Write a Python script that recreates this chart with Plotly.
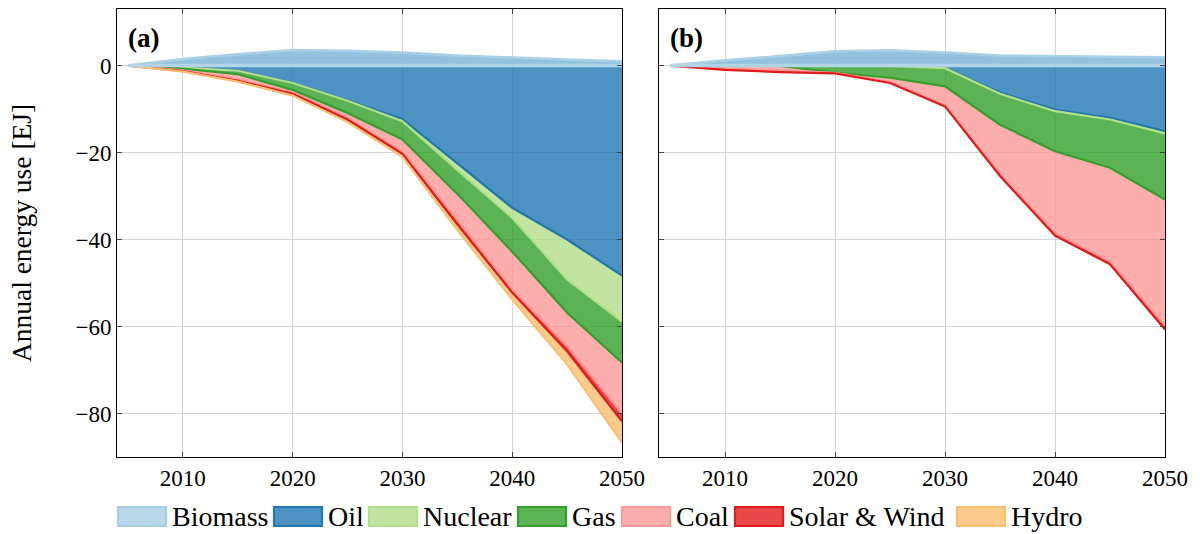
import plotly.graph_objects as go
import numpy as np

# ---------------- data (EJ) ----------------
years = [2005, 2010, 2015, 2020, 2025, 2030, 2035, 2040, 2045, 2050]
series_names = ["Biomass", "Oil", "Nuclear", "Gas", "Coal", "Solar & Wind", "Hydro"]

# panel (a)
biomass_a = [0, 1.5, 2.6, 3.6, 3.4, 3.0, 2.3, 1.8, 1.4, 1.0]
oil_a = [0, -0.5, -1.2, -4.0, -8.0, -12.3, -22.5, -32.7, -40.0, -48.3]
nuclear_a = [0, 0, 0, 0, -0.1, -0.5, -1.5, -2.3, -9.2, -10.6]
gas_a = [0, -0.2, -0.8, -1.6, -2.8, -4.2, -5.5, -7.8, -7.6, -9.4]
coal_a = [0, -0.4, -1.2, -0.6, -1.2, -2.8, -6.0, -8.7, -7.7, -11.7]
solar_a = [0, -0.2, -0.3, -0.3, -0.3, -0.5, -1.0, -0.7, -1.2, -1.8]
hydro_a = [0, -0.1, -0.2, -0.4, -0.6, -0.7, -1.3, -1.6, -3.0, -4.9]

# panel (b)
biomass_b = [0, 1.2, 2.2, 3.3, 3.5, 3.0, 2.3, 2.1, 2.0, 1.9]
oil_b = [0, 0, 0, 0, -0.1, -0.5, -6.2, -10.1, -12.0, -15.1]
nuclear_b = [0, 0, 0, 0, 0, -0.1, -0.3, -0.4, -0.4, -0.5]
gas_b = [0, 0, -0.1, -1.6, -2.7, -4.2, -7.1, -9.2, -11.1, -15.2]
coal_b = [0, -0.7, -1.0, -0.1, -1.0, -4.3, -11.3, -18.8, -21.5, -29.0]
solar_b = [0, -0.3, -0.4, -0.1, -0.2, -0.3, -0.5, -0.6, -0.7, -0.9]
hydro_b = [0, 0, 0, 0, 0, 0, 0, 0, 0, 0]

x_ticks = [2010, 2020, 2030, 2040, 2050]
y_ticks = [0, -20, -40, -60, -80]
y_tick_text = ["0", "\u221220", "\u221240", "\u221260", "\u221280"]
panel_labels = ["(a)", "(b)"]

# ---------------- styles ----------------
line_colors = {
    "Biomass": "#a6cee3", "Oil": "#1f78b4", "Nuclear": "#b2df8a", "Gas": "#33a02c",
    "Coal": "#fb9a99", "Solar & Wind": "#e31a1c", "Hydro": "#fdbf6f",
}


def rgba(hexc, a):
    h = hexc.lstrip("#")
    r, g, b = int(h[0:2], 16), int(h[2:4], 16), int(h[4:6], 16)
    return f"rgba({r},{g},{b},{a})"


FONT = "Liberation Serif, Times New Roman, serif"
fig = go.Figure()

panels = [
    ("x", "y", biomass_a, [oil_a, nuclear_a, gas_a, coal_a, solar_a, hydro_a]),
    ("x2", "y2", biomass_b, [oil_b, nuclear_b, gas_b, coal_b, solar_b, hydro_b]),
]

for xa, ya, bio, negs in panels:
    zeros = [0.0] * len(years)
    fig.add_trace(go.Scatter(x=years, y=zeros, mode="lines", line=dict(width=0),
                             showlegend=False, hoverinfo="skip", xaxis=xa, yaxis=ya))
    cum = np.zeros(len(years))
    for name, vals in zip(series_names[1:], negs):
        cum = cum + np.array(vals, dtype=float)
        width = 2.2 if np.any(np.array(vals) != 0) else 0
        fig.add_trace(go.Scatter(
            x=years, y=cum.tolist(), mode="lines", name=name,
            line=dict(color=line_colors[name], width=width),
            fill="tonexty", fillcolor=rgba(line_colors[name], 0.8),
            showlegend=False, xaxis=xa, yaxis=ya))
    fig.add_trace(go.Scatter(
        x=years, y=bio, mode="lines", name="Biomass",
        line=dict(color=rgba("#a9d0e6", 1.0), width=2.5),
        fill="tozeroy", fillcolor="rgba(142,190,219,0.95)",
        showlegend=False, xaxis=xa, yaxis=ya))
    fig.add_trace(go.Scatter(
        x=years, y=zeros, mode="lines", line=dict(color=rgba("#b3d6e9", 0.95), width=3.5),
        showlegend=False, hoverinfo="skip", xaxis=xa, yaxis=ya))

# ---------------- axes ----------------
y_dom = [1 - 457 / 534, 1 - 9 / 534]
common_x = dict(range=[2004, 2050], tickvals=x_ticks, ticks="inside", ticklen=5,
                tickcolor="#444", showline=True, linecolor="black", linewidth=1,
                mirror="ticks", showgrid=True, gridcolor="#d3d3d3", gridwidth=1,
                zeroline=False, automargin=False,
                tickfont=dict(family=FONT, size=23, color="black"))
common_y = dict(range=[-90, 13], tickvals=y_ticks, ticktext=y_tick_text, ticks="inside",
                ticklen=5, tickcolor="#444", showline=True, linecolor="black", linewidth=1,
                mirror="ticks", showgrid=True, gridcolor="#d3d3d3", gridwidth=1,
                zeroline=False, domain=y_dom, automargin=False,
                tickfont=dict(family=FONT, size=23, color="black"))

fig.update_layout(
    width=1200, height=534, margin=dict(l=0, r=0, t=0, b=0, autoexpand=False), autosize=False,
    paper_bgcolor="white", plot_bgcolor="white", showlegend=False,
    xaxis=dict(common_x, domain=[117 / 1200, 622 / 1200], anchor="y"),
    yaxis=dict(common_y, anchor="x",
               title=dict(text="Annual energy use [EJ]", font=dict(family=FONT, size=27.5, color="black"),
                          standoff=35)),
    xaxis2=dict(common_x, domain=[659 / 1200, 1165 / 1200], anchor="y2"),
    yaxis2=dict(common_y, anchor="x2", showticklabels=False),
)

# panel labels
for lab, xr, yr in zip(panel_labels, ["x domain", "x2 domain"], ["y domain", "y2 domain"]):
    fig.add_annotation(text=f"<b>{lab}</b>", xref=xr, yref=yr, x=0.018, y=0.935,
                       xanchor="left", yanchor="middle", showarrow=False,
                       font=dict(family=FONT, size=27, color="black"))

# ---------------- manual legend (boxes + labels) ----------------
legend_box_x = [118, 274, 369, 518, 622, 735, 957]
box_w, box_y0, box_y1 = 48, 507, 526
for name, bx in zip(series_names, legend_box_x):
    c = line_colors[name]
    fig.add_shape(type="rect", xref="paper", yref="paper",
                  x0=bx / 1200, x1=(bx + box_w) / 1200,
                  y0=1 - box_y1 / 534, y1=1 - box_y0 / 534,
                  fillcolor=rgba(c, 0.8), line=dict(color=c, width=2.2))
    fig.add_annotation(text=name, xref="paper", yref="paper",
                       x=(bx + box_w + 4) / 1200, y=1 - 516.5 / 534,
                       xanchor="left", yanchor="middle", showarrow=False,
                       font=dict(family=FONT, size=28, color="black"))

fig.write_html("out.html", config={"responsive": False, "displayModeBar": False},
               post_script="document.body.style.margin='0px';document.body.style.overflow='hidden';")
